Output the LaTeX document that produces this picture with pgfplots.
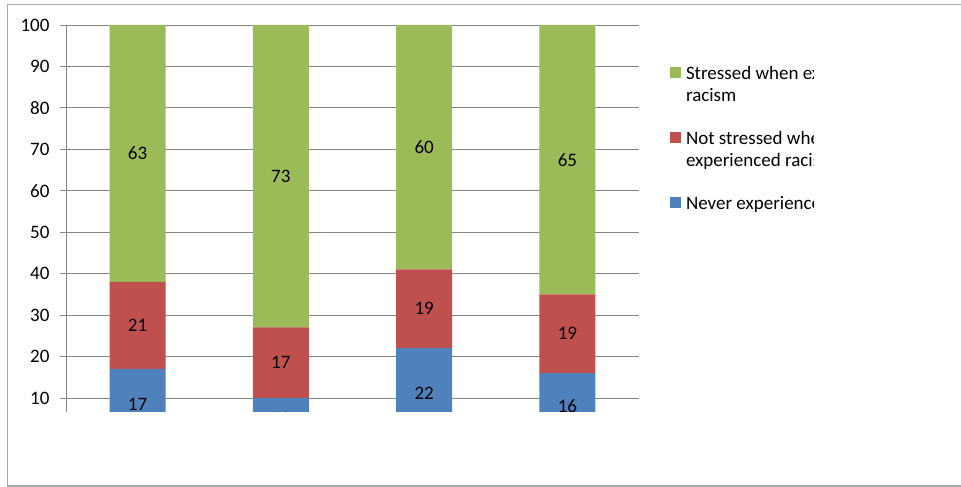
\documentclass[border=0pt]{standalone}
\usepackage{pgfplots}
\pgfplotsset{compat=1.18}
\usepackage{fontspec}
\setmainfont{Carlito}
\definecolor{cgreen}{RGB}{155,187,89}
\definecolor{cred}{RGB}{192,80,77}
\definecolor{cblue}{RGB}{79,129,189}
\definecolor{gridgray}{RGB}{134,134,134}
\definecolor{bordergray}{RGB}{170,170,170}
\pgfplotsset{sq/.style={legend image code/.code={\fill[##1,draw=none] (0bp,1bp) rectangle (11bp,12bp);}}}
\begin{document}
\begin{tikzpicture}[x=1bp,y=1bp,font=\fontsize{19bp}{22.5bp}\selectfont]
\begin{axis}[
 scale only axis, width=573bp, height=387bp,
 ybar stacked, bar width=56bp,
 xmin=-0.5, xmax=3.5, ymin=6.6, ymax=100,
 ytick={10,20,...,100},
 axis x line=none, axis y line*=left,
 y axis line style={-, draw=gridgray, line width=0.8bp},
 ymajorgrids, grid style={gridgray, line width=0.8bp},
 tick align=outside, major tick length=6bp, tick style={gridgray, line width=0.8bp},
 yticklabel style={xshift=-7bp},
 /pgf/number format/assume math mode=true,
 clip marker paths=true,
 nodes near coords,
 every node near coord/.append style={anchor=center, text=black},
 reverse legend,
 legend style={at={(axis description cs:1.0541,0.9062)}, anchor=north west, draw=none, fill=none,
   inner sep=0pt, outer sep=0pt, row sep=0pt, column sep=5bp,
   nodes={inner sep=0pt, anchor=base west, text height=18bp, text depth=47bp}},
 legend cell align=left,
]
\coordinate (A) at (rel axis cs:0,0);
\addplot[fill=cblue, draw=none, sq] coordinates {(0,17) (1,10) (2,22) (3,16)};
\addlegendentry{Never experienced racism}
\addplot[fill=cred, draw=none, sq] coordinates {(0,21) (1,17) (2,19) (3,19)};
\addlegendentry{\parbox[t]{250bp}{Not stressed when\\experienced racism}}
% green segments end at the 100 line; labels carry the published values
\addplot[fill=cgreen, draw=none, sq, point meta=explicit symbolic]
  coordinates {(0,62) [63] (1,73) [73] (2,59) [60] (3,65) [65]};
\addlegendentry{\parbox[t]{250bp}{Stressed when experienced\\racism}}
\end{axis}
\pgfresetboundingbox
\begin{scope}[shift={(A)}]
\useasboundingbox (-66,-75) rectangle (895,412);
\draw[bordergray, line width=1.5bp] (895,407.5) -- (-58.5,407.5) -- (-58.5,-74) -- (895,-74);
\fill[white] (748,172) rectangle (892,362);
\end{scope}
\end{tikzpicture}
\end{document}
